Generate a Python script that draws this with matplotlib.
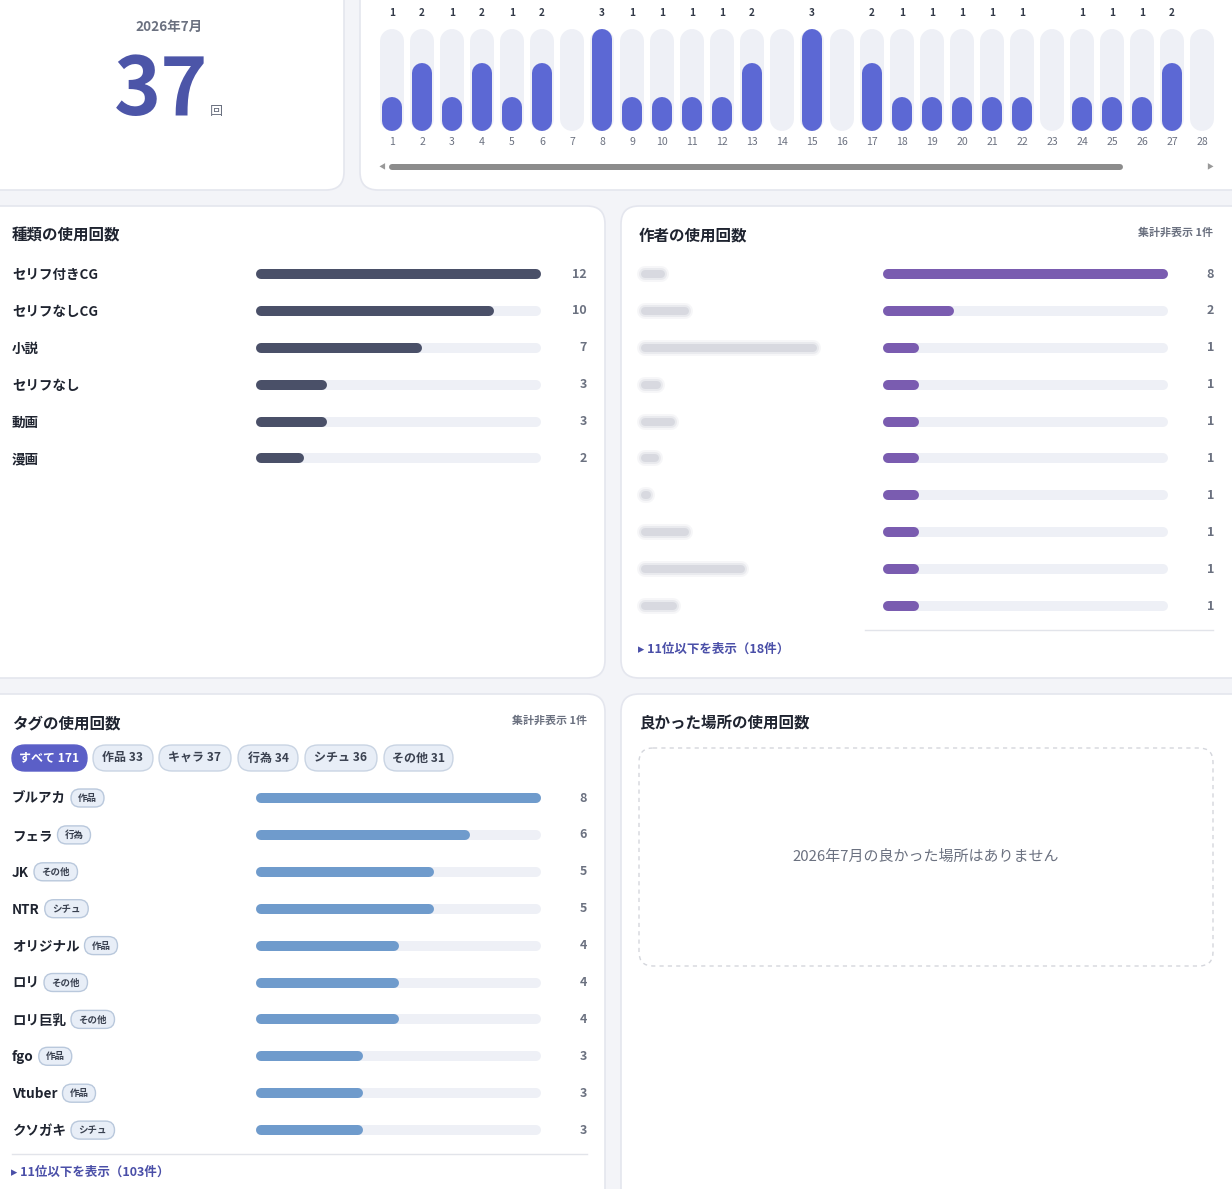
import matplotlib
matplotlib.use("Agg")
import matplotlib.pyplot as plt
from matplotlib.patches import FancyBboxPatch
from matplotlib.transforms import blended_transform_factory as blend

plt.rcParams['font.family'] = ['Noto Sans CJK JP', 'DejaVu Sans']

# ---- data ----
month_label = "2026年7月"
month_total = 37
days = list(range(1, 29))
day_counts = [1, 2, 1, 2, 1, 2, 0, 3, 1, 1, 1, 1, 2, 0, 3, 0, 2, 1, 1, 1, 1, 1, 0, 1, 1, 1, 2, 0]

type_names = ["セリフ付きCG", "セリフなしCG", "小説", "セリフなし", "動画", "漫画"]
type_counts = [12, 10, 7, 3, 3, 2]

author_blur_widths = [28, 52, 180, 24, 38, 22, 14, 52, 108, 40]  # names are blurred in the source
author_counts = [8, 2, 1, 1, 1, 1, 1, 1, 1, 1]

tag_filters = ["すべて 171", "作品 33", "キャラ 37", "行為 34", "シチュ 36", "その他 31"]
tag_names = ["ブルアカ", "フェラ", "JK", "NTR", "オリジナル", "ロリ", "ロリ巨乳", "fgo", "Vtuber", "クソガキ"]
tag_kinds = ["作品", "行為", "その他", "シチュ", "作品", "その他", "その他", "作品", "作品", "シチュ"]
tag_counts = [8, 6, 5, 5, 4, 4, 4, 3, 3, 3]

W, H = 1232, 1189
fig = plt.figure(figsize=(W / 100, H / 100), dpi=100, facecolor="#f3f4f8")
bg = fig.add_axes([0, 0, 1, 1])
bg.set_xlim(0, W)
bg.set_ylim(H, 0)
bg.axis("off")
bg.set_facecolor("none")

PT = 0.72  # px -> pt
DARK = "#1f2430"
GRAY = "#6b7180"
TRACK = "#eef0f6"
LINK = "#4a4fa8"


def card(x0, y0, x1, y1):
    bg.add_patch(FancyBboxPatch((x0, y0), x1 - x0, y1 - y0,
                                boxstyle="round,pad=0,rounding_size=18",
                                fc="white", ec="#e4e6ee", lw=1.2))


def px_axes(x0, y0, x1, y1):
    a = fig.add_axes([x0 / W, 1 - y1 / H, (x1 - x0) / W, (y1 - y0) / H])
    a.axis("off")
    a.patch.set_alpha(0)
    return a


def pill(x0, x1, yc, h, fc, ec, text, tc, fs, bold=True):
    bg.add_patch(FancyBboxPatch((x0, yc - h / 2), x1 - x0, h,
                                boxstyle="round,pad=0,rounding_size=%f" % (h / 2),
                                fc=fc, ec=ec, lw=1))
    bg.text((x0 + x1) / 2, yc, text, ha="center", va="center", color=tc,
            fontsize=fs * PT, fontweight="bold" if bold else "normal")


card(-20, -20, 344, 190)
card(360, -20, 1250, 190)
card(-20, 206, 605, 678)
card(621, 206, 1250, 678)
card(-20, 694, 605, 1210)
card(621, 694, 1250, 1210)

# ---- month total ----
bg.text(169, 27, month_label, ha="center", va="center", color=GRAY, fontsize=13.5 * PT, fontweight="bold")
bg.text(161, 115, str(month_total), ha="center", va="baseline", color="#4c55a8", fontsize=80 * PT, fontweight="bold")
bg.text(216, 115, "回", ha="center", va="baseline", color=GRAY, fontsize=13 * PT)

# ---- daily bars ----
dax = px_axes(377, 29, 1217, 131)
dax.set_xlim(0.5, 28.5)
dax.set_ylim(0, 3)
u = 3 / 102.0
dax.vlines(days, 12 * u, 3 - 12 * u, color=TRACK, lw=24 * PT, capstyle="round")
for d, c in zip(days, day_counts):
    if c > 0:
        dax.vlines(d, 10 * u, c - 10 * u, color="#5c68d4", lw=20 * PT, capstyle="round")
        dax.text(d, 13, str(c), transform=blend(dax.transData, bg.transData), ha="center", va="center",
                 color="#333a48", fontsize=10 * PT, fontweight="bold")
    dax.text(d, 142, str(d), transform=blend(dax.transData, bg.transData), ha="center", va="center",
             color=GRAY, fontsize=10.5 * PT)
bg.plot([392, 1120], [167, 167], color="#8c8c8c", lw=6 * PT, solid_capstyle="round")
bg.text(382, 167, "◀", ha="center", va="center", color="#999999", fontsize=5)
bg.text(1210, 167, "▶", ha="center", va="center", color="#999999", fontsize=5)


def hbar_list(x0, x1, y_first, values, color, value_x):
    n = len(values)
    step = 36.9
    a = px_axes(x0, y_first - step / 2, x1, y_first - step / 2 + n * step)
    vmax = max(values)
    a.set_xlim(0, vmax)
    a.set_ylim(n - 0.5, -0.5)
    r = 5 * vmax / (x1 - x0)
    rows = list(range(n))
    a.hlines(rows, r, vmax - r, color=TRACK, lw=10 * PT, capstyle="round")
    a.hlines(rows, r, [v - r for v in values], color=color, lw=10 * PT, capstyle="round")
    tr = blend(bg.transData, a.transData)
    for i, v in enumerate(values):
        bg.text(value_x, i, str(v), transform=tr, ha="right", va="center", color=GRAY,
                fontsize=12.5 * PT, fontweight="bold")
    return a, tr


# ---- types ----
bg.text(12, 235, "種類の使用回数", ha="left", va="center", color=DARK, fontsize=15.5 * PT, fontweight="bold")
a, tr = hbar_list(256, 541, 274, type_counts, "#4a5068", 587)
for i, name in enumerate(type_names):
    bg.text(12, i + 0.03, name, transform=tr, ha="left", va="center", color=DARK, fontsize=13.5 * PT, fontweight="bold")

# ---- authors ----
bg.text(639, 235, "作者の使用回数", ha="left", va="center", color=DARK, fontsize=15.5 * PT, fontweight="bold")
bg.text(1213, 233, "集計非表示 1件", ha="right", va="center", color=GRAY, fontsize=11 * PT, fontweight="bold")
a, tr = hbar_list(883, 1168, 274, author_counts, "#7a5cb0", 1214)
for i, w in enumerate(author_blur_widths):
    for lw, al in [(16, 0.12), (12, 0.2), (8, 0.35)]:
        bg.plot([645, 639 + w - 6], [i, i], transform=tr, color="#b9bcc6", lw=lw * PT,
                alpha=al, solid_capstyle="round")
bg.plot([865, 1213], [630, 630], color="#e2e4ea", lw=1)
bg.text(638, 649, "▸ 11位以下を表示（18件）", ha="left", va="center", color=LINK, fontsize=12.5 * PT, fontweight="bold")

# ---- tags ----
bg.text(12, 723, "タグの使用回数", ha="left", va="center", color=DARK, fontsize=15.5 * PT, fontweight="bold")
bg.text(587, 721, "集計非表示 1件", ha="right", va="center", color=GRAY, fontsize=11 * PT, fontweight="bold")
pill_x = [(12, 87), (93, 153), (159, 231), (238, 298), (305, 377), (384, 453)]
for k, (lab, (p0, p1)) in enumerate(zip(tag_filters, pill_x)):
    if k == 0:
        pill(p0, p1, 758, 26, "#5b5fc7", "#5b5fc7", lab, "white", 12)
    else:
        pill(p0, p1, 758, 26, "#e8eef7", "#c9d4e3", lab, "#3a4150", 12)

a, tr = hbar_list(256, 541, 798, tag_counts, "#6f9bcc", 587)
fig.canvas.draw()
rend = fig.canvas.get_renderer()
for i, (name, kind) in enumerate(zip(tag_names, tag_kinds)):
    t = bg.text(12, i + 0.03, name, transform=tr, ha="left", va="center", color=DARK, fontsize=13.5 * PT, fontweight="bold")
    ext = t.get_window_extent(rend)
    x_end = bg.transData.inverted().transform((ext.x1, 0))[0]
    cw = 12 + 10.5 * len(kind)
    yc = tr.transform((0, i))[1]
    yc = bg.transData.inverted().transform((0, yc))[1]
    pill(x_end + 5, x_end + 5 + cw, yc, 18, "#e8eef7", "#b9c8dc", kind, "#3a4150", 9.5)
bg.plot([12, 587], [1154, 1154], color="#e2e4ea", lw=1)
bg.text(11, 1172, "▸ 11位以下を表示（103件）", ha="left", va="center", color=LINK, fontsize=12.5 * PT, fontweight="bold")

# ---- good places ----
bg.text(639, 723, "良かった場所の使用回数", ha="left", va="center", color=DARK, fontsize=15.5 * PT, fontweight="bold")
bg.add_patch(FancyBboxPatch((639, 748), 574, 218, boxstyle="round,pad=0,rounding_size=14",
                            fc="white", ec="#d4d6dc", lw=1, ls=(0, (3, 3))))
bg.text(926, 857, month_label + "の良かった場所はありません", ha="center", va="center", color=GRAY, fontsize=15 * PT)

fig.savefig("out.png", dpi=100, facecolor=fig.get_facecolor())
